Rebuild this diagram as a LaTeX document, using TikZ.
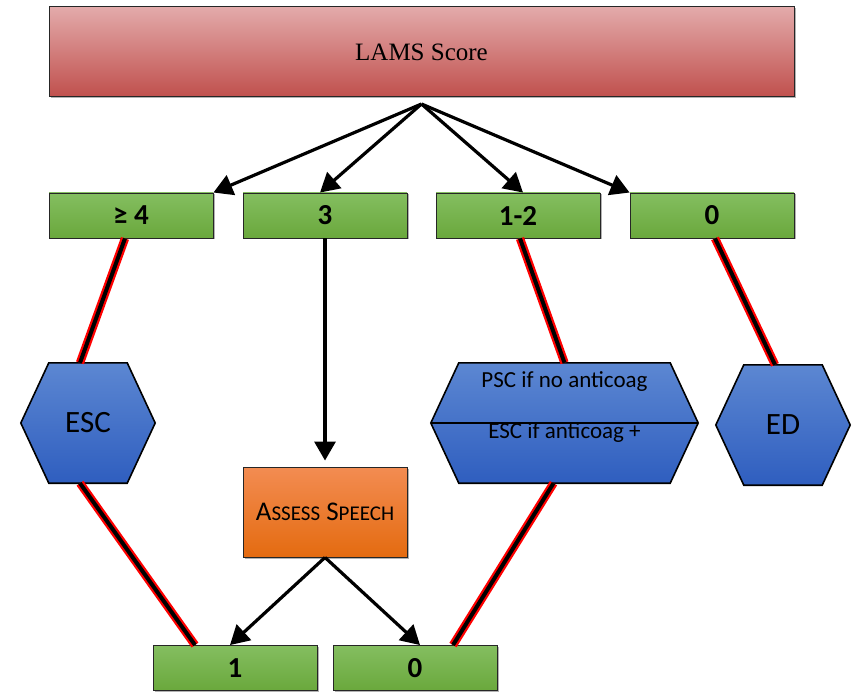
\documentclass[tikz,border=0pt]{standalone}
\usepackage{fontspec}
\setmainfont{Carlito}
\newfontfamily\lamsfont{Liberation Serif}
\usetikzlibrary{arrows.meta,shapes,
				positioning,shadows,backgrounds}

\definecolor{lamstop}{HTML}{E3AAAA}
\definecolor{lamsbot}{HTML}{C0504D}
\definecolor{greentop}{HTML}{84BE60}
\definecolor{greenbot}{HTML}{6AA83C}
\definecolor{bluetop}{HTML}{5C87D2}
\definecolor{bluebot}{HTML}{2F5EBF}
\definecolor{orangetop}{HTML}{F38C52}
\definecolor{orangebot}{HTML}{E46B10}

\newcommand{\smallcap}{\fontsize{21}{21}\selectfont}
% hexagon behind a named node: #1 node, #2 cut of the corners
\newcommand{\hexback}[2]{%
	\path[hexfill] ([xshift=#2]#1.north west) -- ([xshift=-#2]#1.north east) -- (#1.east)
		-- ([xshift=-#2]#1.south east) -- ([xshift=#2]#1.south west) -- (#1.west) -- cycle;}

\tikzset{
	softshadow/.style={drop shadow={shadow xshift=1.5pt,shadow yshift=-1.5pt,opacity=0.3,fill=black}},
	lamsbox/.style={draw=black!85,line width=1pt,top color=lamstop,bottom color=lamsbot,
		minimum width=745pt,minimum height=90pt,inner sep=0pt,softshadow,
		font=\lamsfont\fontsize{25}{25}\selectfont},
	greenbox/.style={draw=black!85,line width=0.9pt,top color=greentop,bottom color=greenbot,
		minimum width=164pt,minimum height=45pt,inner sep=0pt,softshadow,
		font=\bfseries\fontsize{29}{29}\selectfont},
	hexbox/.style={minimum height=120pt,inner sep=0pt,font=\fontsize{31}{31}\selectfont},
	hexfill/.style={draw=black,line width=1.6pt,line join=miter,top color=bluetop,bottom color=bluebot},
	hextext/.style={inner sep=0pt,font=\fontsize{23}{23}\selectfont},
	assessbox/.style={draw=black!85,line width=0.9pt,top color=orangetop,bottom color=orangebot,
		minimum width=164pt,minimum height=90pt,inner sep=0pt,softshadow,
		font=\fontsize{27}{27}\selectfont},
	arr/.style={-{Triangle[length=19pt,width=21pt]},line width=3.2pt},
	redlink/.style={draw=red,line width=2.2pt,double=black,double distance=4pt}
}

\begin{document}
\begin{tikzpicture}[x=1pt,y=-1pt]
	\useasboundingbox (0,0) rectangle (853,692);

	\node[lamsbox] (lams) at (421.5,52) {LAMS Score};

	\node[greenbox] (ge4) at (131,215.5) {≥ 4};
	\node[greenbox] (three) at (325,215.5) {3};
	\node[greenbox] (onetwo) at (518,215.5) {1-2};
	\node[greenbox] (zero) at (712,215.5) {0};

	\node[hexbox,minimum width=134pt] (esc) at (88,423) {ESC};
	\node[hexbox,minimum width=267pt] (psc) at (564.5,423) {};
	\node[hexbox,minimum width=134pt] (ed) at (783,425) {ED};
	\begin{scope}[on background layer]
		\hexback{esc}{28pt}
		\hexback{psc}{28pt}
		\hexback{ed}{28pt}
	\end{scope}
	\draw[line width=1.6pt] (psc.west) -- (psc.east);
	\node[hextext] (pscno) at (564.5,382) {PSC if no anticoag};
	\node[hextext] (pscyes) at (564.5,433) {ESC if anticoag +};

	\node[assessbox] (assess) at (325,512) {A{\smallcap SSESS} S{\smallcap PEECH}};

	\node[greenbox] (one) at (235,668) {1};
	\node[greenbox] (nil) at (415,668) {0};

	\coordinate (fork) at (421.5,104);
	\draw[arr] (fork) -- (ge4.north east);
	\draw[arr] (fork) -- ([xshift=-5pt]three.north);
	\draw[arr] (fork) -- ([xshift=5pt]onetwo.north);
	\draw[arr] (fork) -- (zero.north west);

	\draw[arr,shorten >=6pt] (three.south) -- (assess.north);
	\draw[arr] (assess.south) -- ([xshift=-5pt]one.north);
	\draw[arr] (assess.south) -- ([xshift=5pt]nil.north);

	\draw[redlink] ([xshift=-6pt]ge4.south) -- ([xshift=-8pt]esc.north);
	\draw[redlink] ([xshift=-8pt]esc.south) -- ([xshift=-40pt]one.north);
	\draw[redlink] ([xshift=2pt]onetwo.south) -- (psc.north);
	\draw[redlink] ([xshift=-11pt]psc.south) -- ([xshift=38pt]nil.north);
	\draw[redlink] ([xshift=3pt]zero.south) -- ([xshift=-8pt]ed.north);

\end{tikzpicture}
\end{document}
